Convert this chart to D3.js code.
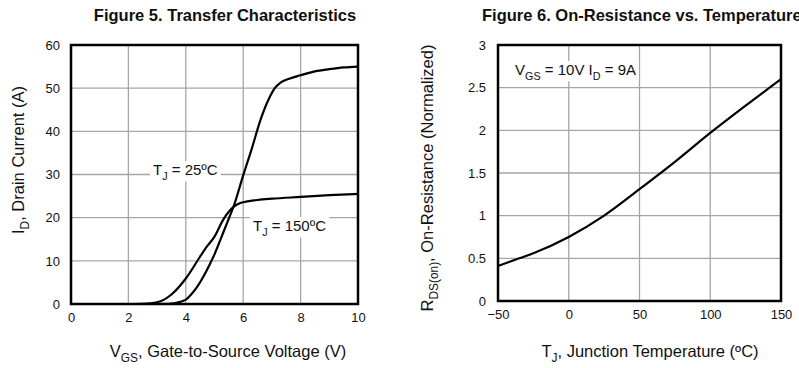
<!DOCTYPE html>
<html><head><meta charset="utf-8">
<script src="https://cdn.jsdelivr.net/npm/d3@7"></script>
<style>
body{margin:0;background:#fff;}
text{font-family:"Liberation Sans",Arial,sans-serif;fill:#111;}
</style></head>
<body><svg id="c" width="799" height="368"></svg>
<script>
// Figure 5 data
const vgsTicks = [0,2,4,6,8,10];
const idTicks = [0,10,20,30,40,50,60];
const vgs25 = [3.0,3.5,3.8,4.0,4.2,4.4,4.6,4.85,5.0,5.2,5.5,5.66,6.0,6.3,6.6,6.9,7.1,7.3,7.6,8.0,8.5,9.0,9.5,10];
const id25  = [0,0.1,0.5,1.0,2.3,4.0,6.2,9.4,11.5,14.8,19.8,22.5,29.8,36,42.6,47.6,50,51.3,52.2,53,53.9,54.4,54.8,55];
const vgs150 = [2.0,2.5,3.0,3.5,4.0,4.5,4.7,5.0,5.3,5.66,5.9,6.1,6.5,7.0,8.0,9.0,10];
const id150  = [0,0.05,0.4,2.2,5.9,11,13,15.6,19.5,22.5,23.4,23.7,24.1,24.4,24.8,25.2,25.5];
// Figure 6 data
const tjTicks = [-50,0,50,100,150];
const rTicks = [0,0.5,1,1.5,2,2.5,3];
const rTickLabels = ["0","0.5","1","1.5","2","2.5","3"];
const tj = [-50,-35,-25,0,25,50,75,100,125,150];
const rds = [0.41,0.5,0.56,0.75,1.0,1.31,1.63,1.97,2.29,2.6];

const svg = d3.select("#c");

function panel(o){
  const g = svg.append("g");
  const x = d3.scaleLinear().domain(o.xd).range([o.x0,o.x1]);
  const y = d3.scaleLinear().domain(o.yd).range([o.y1,o.y0]);
  g.selectAll(".gx").data(o.xt).enter().append("line")
    .attr("x1",d=>x(d)).attr("x2",d=>x(d)).attr("y1",o.y0).attr("y2",o.y1)
    .attr("stroke","#a6a6a6").attr("stroke-width",1.3);
  g.selectAll(".gy").data(o.yt).enter().append("line")
    .attr("x1",o.x0).attr("x2",o.x1).attr("y1",d=>y(d)).attr("y2",d=>y(d))
    .attr("stroke","#a6a6a6").attr("stroke-width",1.3);
  const ax = g.append("g").attr("transform",`translate(0,${o.y1})`)
    .call(d3.axisBottom(x).tickValues(o.xt).tickSize(0).tickPadding(9).tickFormat(d3.format("d")));
  const ay = g.append("g").attr("transform",`translate(${o.x0},0)`)
    .call(d3.axisLeft(y).tickValues(o.yt).tickSize(0).tickPadding(o.ypad).tickFormat((d,i)=>o.ytl?o.ytl[i]:d));
  [ax,ay].forEach(a=>{a.select(".domain").remove(); a.selectAll("text").attr("font-size",13).attr("fill","#111").attr("font-family","Liberation Sans, Arial, sans-serif");});
  return {g,x,y};
}

function addSeries(p, xs, ys){
  const line = d3.line().curve(d3.curveMonotoneX).x(d=>p.x(d[0])).y(d=>p.y(d[1]));
  p.g.append("path").datum(xs.map((v,i)=>[v,ys[i]])).attr("d",line)
    .attr("fill","none").attr("stroke","#000").attr("stroke-width",2.2);
}
function frame(p,o){
  p.g.append("rect").attr("x",o.x0).attr("y",o.y0).attr("width",o.x1-o.x0).attr("height",o.y1-o.y0)
    .attr("fill","none").attr("stroke","#000").attr("stroke-width",2.5);
}
function subText(g, x, y, parts, size, anchor, rotate, bg){
  const t = g.append("text").attr("x",x).attr("y",y).attr("font-size",size).attr("text-anchor",anchor||"start");
  if(rotate) t.attr("transform",`rotate(-90,${x},${y})`);
  parts.forEach(p=>{
    if(p.sub){
      t.append("tspan").attr("font-size",size*0.72).attr("dy",size*0.3).text(p.t);
    } else {
      const ts = t.append("tspan").text(p.t);
      if(p.back) ts.attr("dy",-size*0.3);
    }
  });
  if(bg){
    const b = t.node().getBBox();
    g.insert("rect", function(){return t.node();}).attr("x",b.x-3).attr("y",b.y).attr("width",b.width+6).attr("height",b.height).attr("fill","#fff");
  }
  return t;
}

// Left panel
const L = {x0:71,x1:358,y0:45,y1:304,xd:[0,10],yd:[0,60],xt:vgsTicks,yt:idTicks,ypad:11};
const pL = panel(L);
addSeries(pL, vgs25, id25);
addSeries(pL, vgs150, id150);
frame(pL,L);
subText(pL.g,153,175,[{t:"T"},{t:"J",sub:true},{t:" = 25ºC",back:true}],15,"start",false,true);
subText(pL.g,253,231,[{t:"T"},{t:"J",sub:true},{t:" = 150ºC",back:true}],15,"start",false,true);
svg.append("text").attr("x",225).attr("y",21).attr("text-anchor","middle").attr("font-size",16.5).attr("font-weight","bold").text("Figure 5. Transfer Characteristics");
subText(svg,228,357,[{t:"V"},{t:"GS",sub:true},{t:", Gate-to-Source Voltage (V)",back:true}],16.5,"middle");
subText(svg,24,160,[{t:"I"},{t:"D",sub:true},{t:", Drain Current (A)",back:true}],16.5,"middle",true);

// Right panel
const R = {x0:498,x1:781,y0:45,y1:301,xd:[-50,150],yd:[0,3],xt:tjTicks,yt:rTicks,ytl:rTickLabels,ypad:12};
const pR = panel(R);
addSeries(pR, tj, rds);
frame(pR,R);
subText(pR.g,515,75,[{t:"V"},{t:"GS",sub:true},{t:" = 10V I",back:true},{t:"D",sub:true},{t:" = 9A",back:true}],15,"start",false,true);
svg.append("text").attr("x",482).attr("y",21).attr("text-anchor","start").attr("font-size",16.5).attr("font-weight","bold").text("Figure 6. On-Resistance vs. Temperature");
subText(svg,650,357,[{t:"T"},{t:"J",sub:true},{t:", Junction Temperature (ºC)",back:true}],16.5,"middle");
subText(svg,433,178,[{t:"R"},{t:"DS(on)",sub:true},{t:", On-Resistance (Normalized)",back:true}],16.5,"middle",true);
</script></body></html>
